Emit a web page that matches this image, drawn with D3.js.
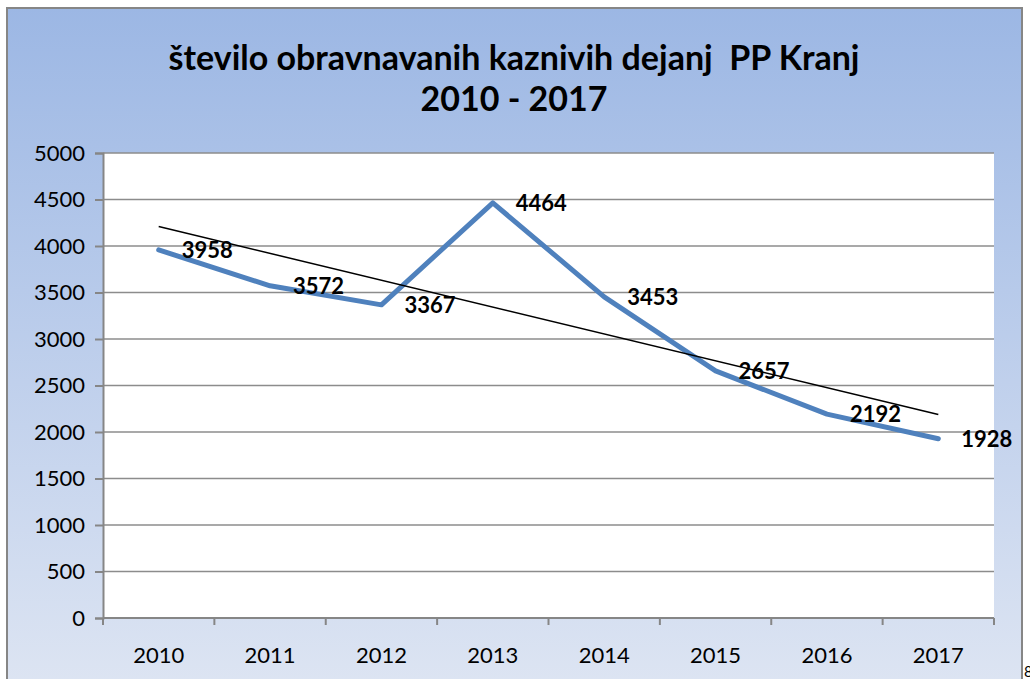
<!DOCTYPE html>
<html>
<head>
<meta charset="utf-8">
<script src="https://cdn.jsdelivr.net/npm/d3@7"></script>
<style>
  body { margin: 0; background: #fff; }
  svg { display: block; font-family: Lato, "Noto Sans", sans-serif; }
</style>
</head>
<body>
<div id="chart"></div>
<script>
var years = ["2010", "2011", "2012", "2013", "2014", "2015", "2016", "2017"];
var cases = [3958, 3572, 3367, 4464, 3453, 2657, 2192, 1928];
var yTicks = [0, 500, 1000, 1500, 2000, 2500, 3000, 3500, 4000, 4500, 5000];
var titleLines = ["število obravnavanih kaznivih dejanj  PP Kranj", "2010 - 2017"];

var svgWidth = 1030;
var svgHeight = 679;

var margin = { top: 153, right: 36, bottom: 61, left: 103 };
var width = svgWidth - margin.left - margin.right;
var height = svgHeight - margin.top - margin.bottom;

var svg = d3.select("#chart")
  .append("svg")
  .attr("width", svgWidth)
  .attr("height", svgHeight);

// outer chart frame with blue gradient
var grad = svg.append("defs").append("linearGradient")
  .attr("id", "bg")
  .attr("x1", 0).attr("y1", 0).attr("x2", 0).attr("y2", 1);
grad.append("stop").attr("offset", "0%").attr("stop-color", "#9cb7e4");
grad.append("stop").attr("offset", "100%").attr("stop-color", "#dfe6f3");

svg.append("rect")
  .attr("x", 7).attr("y", 8)
  .attr("width", 1015).attr("height", 700)
  .attr("fill", "url(#bg)")
  .attr("stroke", "#868686")
  .attr("stroke-width", 2);

// page number peeking in at the corner
svg.append("text")
  .attr("x", 1024).attr("y", 677)
  .attr("font-size", 15)
  .attr("fill", "#000")
  .text("8");

// title
svg.selectAll(".title")
  .data(titleLines)
  .enter().append("text")
  .attr("class", "title")
  .attr("x", 514)
  .attr("y", (d, i) => 70 + i * 41)
  .attr("text-anchor", "middle")
  .attr("font-size", 34)
  .attr("font-weight", "bold")
  .attr("fill", "#000")
  .attr("xml:space", "preserve")
  .text(d => d);

var chartGroup = svg.append("g")
  .attr("transform", `translate(${margin.left}, ${margin.top})`);

chartGroup.append("rect")
  .attr("width", width)
  .attr("height", height)
  .attr("fill", "#fff");

var xScale = d3.scaleBand()
  .domain(years)
  .range([0, width]);

var yScale = d3.scaleLinear()
  .domain([0, 5000])
  .range([height, 0]);

// gridlines
chartGroup.selectAll(".grid")
  .data(yTicks.slice(1))
  .enter().append("line")
  .attr("x1", 0).attr("x2", width)
  .attr("y1", d => yScale(d)).attr("y2", d => yScale(d))
  .attr("stroke", "#8c8c8c")
  .attr("stroke-width", 1.3);

// y axis
var leftAxis = d3.axisLeft(yScale)
  .tickValues(yTicks)
  .tickFormat(d3.format("d"))
  .tickSize(8)
  .tickPadding(10);
var yAxisG = chartGroup.append("g")
  .call(leftAxis)
  .attr("font-size", 22)
  .attr("font-family", "Lato, sans-serif");
yAxisG.select(".domain").attr("stroke", "#868686").attr("stroke-width", 2);
yAxisG.selectAll(".tick line").attr("stroke", "#868686").attr("stroke-width", 2);
yAxisG.selectAll("text").attr("fill", "#000");

// x axis: ticks between categories
var boundaries = d3.range(years.length + 1).map(i => i * xScale.bandwidth());
var xAxisG = chartGroup.append("g")
  .attr("transform", `translate(0, ${height})`);
xAxisG.append("line")
  .attr("x1", 0).attr("x2", width)
  .attr("stroke", "#868686").attr("stroke-width", 2);
xAxisG.selectAll(".xtick")
  .data(boundaries)
  .enter().append("line")
  .attr("x1", d => d).attr("x2", d => d)
  .attr("y1", 0).attr("y2", 7)
  .attr("stroke", "#868686").attr("stroke-width", 2);
xAxisG.selectAll(".xlabel")
  .data(years)
  .enter().append("text")
  .attr("x", d => xScale(d) + xScale.bandwidth() / 2)
  .attr("y", 45)
  .attr("text-anchor", "middle")
  .attr("font-size", 22)
  .attr("fill", "#000")
  .text(d => d);

var xMid = d => xScale(d) + xScale.bandwidth() / 2;

// data line
var drawLine = d3.line()
  .x((d, i) => xMid(years[i]))
  .y(d => yScale(d));

chartGroup.append("path")
  .attr("d", drawLine(cases))
  .attr("fill", "none")
  .attr("stroke", "#4f81bd")
  .attr("stroke-width", 5)
  .attr("stroke-linejoin", "round")
  .attr("stroke-linecap", "round");

// linear trend line (least squares fit of the series)
var n = cases.length;
var meanX = (n - 1) / 2;
var meanY = d3.mean(cases);
var slope = d3.sum(cases, (d, i) => (i - meanX) * (d - meanY)) / d3.sum(cases, (d, i) => (i - meanX) * (i - meanX));
var trend = [meanY - slope * meanX, meanY + slope * (n - 1 - meanX)];

chartGroup.append("line")
  .attr("x1", xMid(years[0])).attr("y1", yScale(trend[0]))
  .attr("x2", xMid(years[n - 1])).attr("y2", yScale(trend[1]))
  .attr("stroke", "#000")
  .attr("stroke-width", 1.5);

// data labels
chartGroup.selectAll(".label")
  .data(cases)
  .enter().append("text")
  .attr("x", (d, i) => xMid(years[i]) + 23)
  .attr("y", d => yScale(d) + 8)
  .attr("font-size", 22)
  .attr("font-weight", "bold")
  .attr("fill", "#000")
  .text(d => d);
</script>
</body>
</html>
